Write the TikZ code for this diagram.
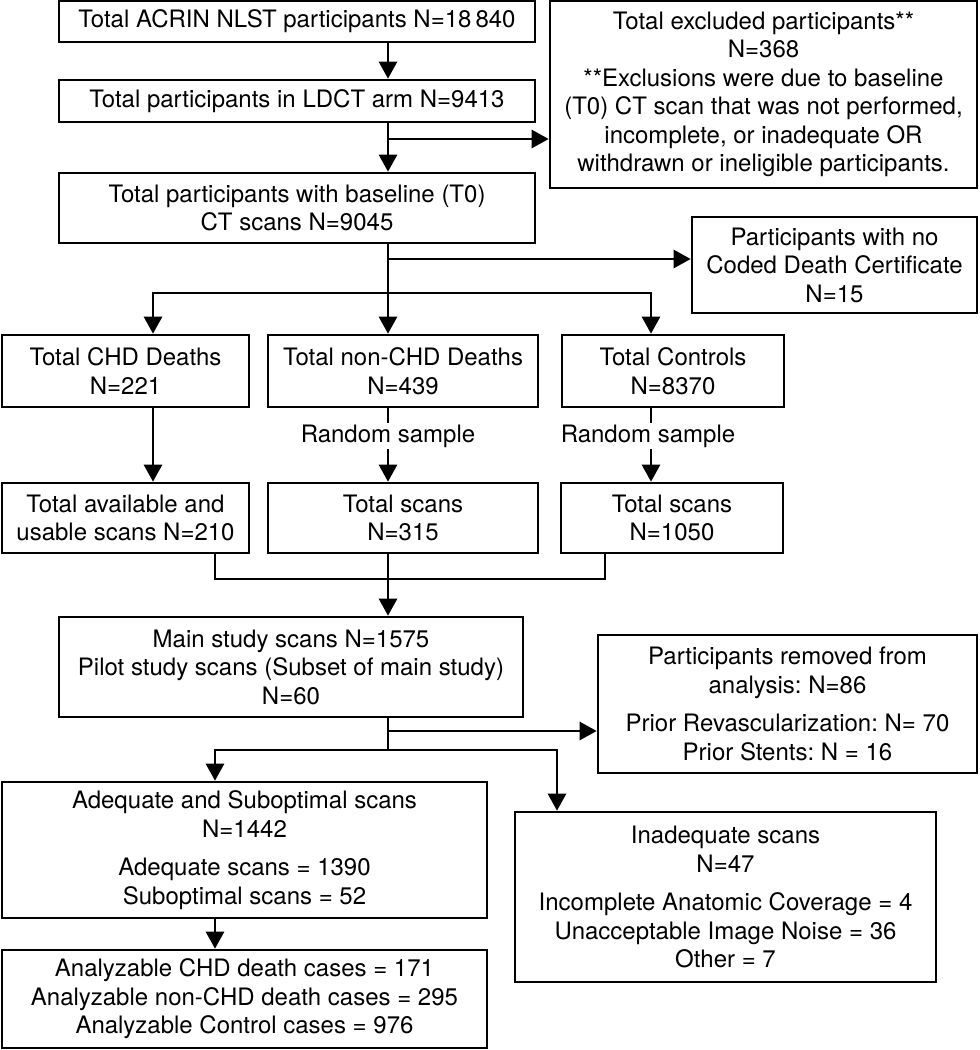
\documentclass[tikz,border=0pt]{standalone}
\usepackage{fontspec}
\setmainfont{TeX Gyre Heros}
\usepackage{tikz}
\usetikzlibrary{arrows.meta}
\usetikzlibrary{positioning}
\frenchspacing

\begin{document}
\begin{tikzpicture}[x=1pt, y=-1pt,
  every node/.style={font=\fontsize{24}{28.5}\selectfont, inner sep=0pt},
  box/.style={draw, line width=2.6pt, align=center},
  arr/.style={-{Triangle[length=17pt,width=18pt]}},
  every path/.style={line width=2.6pt, line join=miter}]
\useasboundingbox (0,0) rectangle (980,1050);

% columns for the connectors
\coordinate (spine) at (388,0);
\coordinate (cchd) at (153,0);
\coordinate (cctl) at (651,0);
\coordinate (cl) at (215,0);
\coordinate (cr) at (605,0);
\coordinate (cin) at (557,0);

% boxes
\node[box, minimum width=476, minimum height=41] (tot) at (297,21.5) {Total ACRIN NLST participants N=18\,840};
\node[box, minimum width=476, minimum height=42] (ldct) at (297,101) {Total participants in LDCT arm N=9413};
\node[box, minimum width=427, minimum height=187] (excl) at (763.5,94.5) {Total excluded participants**\\N=368\\**Exclusions were due to baseline\\(T0) CT scan that was not performed,\\incomplete, or inadequate OR\\withdrawn or ineligible participants.};
\node[box, minimum width=476, minimum height=70] (base) at (297,208) {Total participants with baseline (T0)\\CT scans N=9045};
\node[box, minimum width=285, minimum height=96] (nocert) at (834.5,265) {Participants with no\\Coded Death Certificate\\N=15};

\node[box, minimum width=247, minimum height=72] (chd) at (125.5,371) {Total CHD Deaths\\N=221};
\node[box, minimum width=270, minimum height=72] (nonchd) at (403,371) {Total non-CHD Deaths\\N=439};
\node[box, minimum width=222, minimum height=72] (ctrl) at (673,371) {Total Controls\\N=8370};

\node (rs1) at (388,436) {Random sample};
\node (rs2) at (648,436) {Random sample};

\node[box, minimum width=247, minimum height=70] (chdscan) at (125.5,518) {Total available and\\usable scans N=210};
\node[box, minimum width=270, minimum height=70] (nonscan) at (403,518) {Total scans\\N=315};
\node[box, minimum width=222, minimum height=70] (ctrlscan) at (672,518) {Total scans\\N=1050};

\node[box, minimum width=464, minimum height=100] (main) at (291,667) {Main study scans N=1575\\Pilot study scans (Subset of main study)\\N=60};
\node[box, minimum width=379, minimum height=138] (removed) at (787.5,704) {Participants removed from\\analysis: N=86\\[10pt]Prior Revascularization: N= 70\\Prior Stents: N = 16};
\node[box, minimum width=485, minimum height=136] (adeq) at (244.5,850) {Adequate and Suboptimal scans\\N=1442\\[10pt]Adequate scans = 1390\\Suboptimal scans = 52};
\node[box, minimum width=421, minimum height=170] (inadeq) at (725.5,897) {Inadequate scans\\N=47\\[10pt]Incomplete Anatomic Coverage = 4\\Unacceptable Image Noise = 36\\Other = 7};
\node[box, minimum width=485, minimum height=98] (anal) at (244.5,999) {Analyzable CHD death cases = 171\\Analyzable non-CHD death cases = 295\\Analyzable Control cases = 976};

% junctions
\coordinate (j1) at (388,139);
\coordinate (j2) at (388,259);
\coordinate (j3) at (388,293);
\coordinate (j4) at (388,579);
\coordinate (j5) at (388,731);
\coordinate (j6) at (388,750);

% connectors
\draw[arr] (tot.south -| spine) -- (ldct.north -| spine);
\draw[arr] (ldct.south -| spine) -- (base.north -| spine);
\draw[arr] (j1) -- (j1 -| excl.west);

\draw[arr] (base.south -| spine) -- (nonchd.north -| spine);
\draw[arr] (j2) -- (j2 -| nocert.west);
\draw[arr] (j3) -| (chd.north -| cchd);
\draw[arr] (j3) -| (ctrl.north -| cctl);

\draw[arr] (chd.south -| cchd) -- (chdscan.north -| cchd);
\draw (nonchd.south -| spine) -- (rs1.north -| spine);
\draw[arr] (rs1.south -| spine) -- (nonscan.north -| spine);
\draw (ctrl.south -| cctl) -- (rs2.north -| cctl);
\draw[arr] (rs2.south -| cctl) -- (ctrlscan.north -| cctl);

\draw (chdscan.south -| cl) |- (j4) -| (ctrlscan.south -| cr);
\draw[arr] (nonscan.south -| spine) -- (main.north -| spine);

\draw (main.south -| spine) -- (j6);
\draw[arr] (j5) -- (j5 -| removed.west);
\draw[arr] (j6) -| (adeq.north -| cl);
\draw[arr] (j6) -| (inadeq.north -| cin);
\draw[arr] (adeq.south -| cl) -- (anal.north -| cl);
\end{tikzpicture}
\end{document}
